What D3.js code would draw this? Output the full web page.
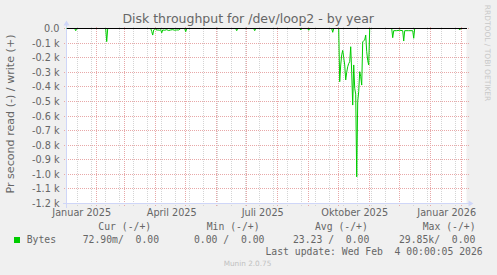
<!DOCTYPE html>
<html>
<head>
<meta charset="utf-8">
<script src="https://cdn.jsdelivr.net/npm/d3@7"></script>
<style>
  html, body { margin: 0; padding: 0; background: #f0f0f0; }
  svg { display: block; }
  text { white-space: pre; }
</style>
</head>
<body>
<svg id="chart" width="497" height="275"></svg>
<script>
// ---------------- data ----------------
const chartTitle = "Disk throughput for /dev/loop2 - by year";
const yAxisTitle = "Pr second read (-) / write (+)";
const sideMark = "RRDTOOL / TOBI OETIKER";
const footerMark = "Munin 2.0.75";

// daily read throughput (plotted negative); days not listed are 0
const dates = [
  "2024-12-31","2025-01-10","2025-01-11","2025-01-12","2025-02-10","2025-02-11","2025-02-12",
  "2025-03-27","2025-03-28","2025-03-29","2025-03-30","2025-03-31","2025-04-01","2025-04-02",
  "2025-04-03","2025-04-05","2025-04-06","2025-04-07","2025-04-08","2025-04-10","2025-04-12",
  "2025-04-14","2025-04-16","2025-04-18","2025-04-20","2025-04-22","2025-04-24","2025-04-26",
  "2025-04-30","2025-05-01","2025-05-02","2025-06-20","2025-06-21","2025-06-22","2025-07-08",
  "2025-07-09","2025-07-10","2025-08-23","2025-08-24","2025-08-25","2025-08-31","2025-09-01",
  "2025-09-02","2025-09-24","2025-09-25","2025-09-26","2025-10-01",
  "2025-10-02","2025-10-03","2025-10-04","2025-10-05","2025-10-06","2025-10-07","2025-10-08",
  "2025-10-09","2025-10-10","2025-10-11","2025-10-12","2025-10-13","2025-10-14","2025-10-15",
  "2025-10-16","2025-10-17","2025-10-18","2025-10-19","2025-10-20","2025-10-21","2025-10-22",
  "2025-10-23","2025-10-24","2025-10-25","2025-10-26","2025-10-27","2025-10-28","2025-10-29",
  "2025-10-30","2025-10-31","2025-11-01",
  "2025-11-23","2025-11-24","2025-11-25","2025-11-28","2025-12-01","2025-12-04","2025-12-05",
  "2025-12-06","2025-12-10","2025-12-14","2025-12-15","2025-12-16",
  "2026-01-29","2026-01-30","2026-01-31","2026-02-04"
];
const readBytes = [
  0, 0, -15, 0, 0, -90, 0,
  0, -20, -45, -10, -5, 0, -12,
  -10, -12, -8, -30, -10, -12, -8,
  -14, -10, -8, -12, -10, -10, 0,
  0, -22, 0, 0, -15, 0, 0,
  -15, 0, 0, -10, 0, 0, -12,
  0, 0, -26, 0, 0,
  -365, -250, -180, -150, -200, -250, -353,
  -300, -262, -240, -228, -125, -300, -525,
  -250, -410, -450, -1017, -500, -433, -296,
  -330, -388, -90, -85, -79, -45, -159,
  -220, -250, 0,
  0, -63, -15, -15, -12, -15, -86,
  -15, -15, -15, -67, 0,
  0, -10, 0, 0
];

const yTickValues = [0, -100, -200, -300, -400, -500, -600, -700, -800, -900, -1000, -1100, -1200];
const yTickLabels = ["0.0", "-0.1 k", "-0.2 k", "-0.3 k", "-0.4 k", "-0.5 k", "-0.6 k",
                     "-0.7 k", "-0.8 k", "-0.9 k", "-1.0 k", "-1.1 k", "-1.2 k"];
const xTickDates = ["2025-01-01", "2025-04-01", "2025-07-01", "2025-10-01", "2026-01-01"];
const xTickLabels = ["Januar 2025", "April 2025", "Juli 2025", "Oktober 2025", "Januar 2026"];

const legendHeaders = ["Cur (-/+)", "Min (-/+)", "Avg (-/+)", "Max (-/+)"];
const legendName = "Bytes";
const legendValues = ["72.90m/  0.00", "0.00 /  0.00", "23.23 /  0.00", "29.85k/  0.00"];
const lastUpdate = "Last update: Wed Feb  4 00:00:05 2026";

// ---------------- layout ----------------
(function () {
const parse = d3.timeParse("%Y-%m-%d");
const svg = d3.select("#chart");
const pL = 66.5, pR = 466.5, pT = 28.5, pB = 203.5;
const t0 = d3.timeHour.offset(parse("2025-01-01"), 19);           // plot start
const t1 = d3.timeHour.offset(parse("2026-02-05"), 19);           // plot end
const x = d3.scaleTime().domain([t0, t1]).range([pL, pR]);
const y = d3.scaleLinear().domain([-1200, 0]).range([pB, pT]);
const px = v => Math.round(v - 0.5) + 0.5;

const FONT = "'DejaVu Sans', sans-serif";
const MONO = "'DejaVu Sans Mono', monospace";
const TXT = "#666666";
const AXIS = "#CFD6F8";

// background
svg.append("rect").attr("width", 497).attr("height", 275).attr("fill", "#f0f0f0");
svg.append("rect").attr("x", pL).attr("y", pT - 0.5)
  .attr("width", pR - pL).attr("height", pB - pT + 0.5).attr("fill", "#ffffff");

// minor vertical grid: every other Monday
const ref = parse("2025-01-13");
const mondays = d3.timeMonday.range(t0, t1)
  .filter(d => Math.round((d - ref) / (7 * 864e5)) % 2 === 0);
const grid = svg.append("g").attr("shape-rendering", "crispEdges");
grid.selectAll("line.minor").data(mondays).join("line")
  .attr("x1", d => px(x(d))).attr("x2", d => px(x(d)))
  .attr("y1", pT - 2).attr("y2", pB + 2)
  .attr("stroke", "#d4d4d4").attr("stroke-width", 1).attr("stroke-dasharray", "1,1");

// major vertical grid: month starts
const months = d3.timeMonth.range(t0, t1);
grid.selectAll("line.major").data(months).join("line")
  .attr("x1", d => px(x(d))).attr("x2", d => px(x(d)))
  .attr("y1", pT - 2).attr("y2", pB + 3)
  .attr("stroke", "#e8a8a8").attr("stroke-width", 1).attr("stroke-dasharray", "1,1");

// horizontal grid
grid.selectAll("line.h").data(yTickValues).join("line")
  .attr("x1", pL - 3).attr("x2", pR + 3)
  .attr("y1", d => px(y(d))).attr("y2", d => px(y(d)))
  .attr("stroke", "#e8a8a8").attr("stroke-width", 1).attr("stroke-dasharray", "1,1");

// axes (lavender) with arrows
const ax = svg.append("g").attr("shape-rendering", "crispEdges");
ax.append("line").attr("x1", pL - 4).attr("x2", pR + 4)
  .attr("y1", px(pB)).attr("y2", px(pB)).attr("stroke", AXIS);
ax.append("line").attr("x1", px(pL)).attr("x2", px(pL))
  .attr("y1", pB + 4).attr("y2", pT - 4).attr("stroke", AXIS);
svg.append("path").attr("d", `M${pR + 2},${px(pB) - 3} L${pR + 7},${px(pB)} L${pR + 2},${px(pB) + 3} Z`)
  .attr("fill", AXIS);
svg.append("path").attr("d", `M${px(pL) - 3},${pT - 3} L${px(pL)},${pT - 8} L${px(pL) + 3},${pT - 3} Z`)
  .attr("fill", AXIS);

// y tick labels
svg.append("g").selectAll("text").data(yTickValues).join("text")
  .attr("x", 59.5).attr("y", d => y(d) + 3.5)
  .attr("text-anchor", "end").attr("font-family", FONT).attr("font-size", "9.7px")
  .attr("fill", TXT).text((d, i) => yTickLabels[i]);

// x tick labels (centered ~16 days after the quarter start)
svg.append("g").selectAll("text").data(xTickDates).join("text")
  .attr("x", d => x(d3.timeDay.offset(parse(d), 16)))
  .attr("y", 216.3)
  .attr("text-anchor", "middle").attr("font-family", FONT).attr("font-size", "9.7px")
  .attr("fill", TXT).text((d, i) => xTickLabels[i]);

// data line
const series = dates.map((d, i) => ({ date: parse(d), value: readBytes[i] }));
const line = d3.line().x(d => x(d.date)).y(d => y(d.value));
svg.append("defs").append("clipPath").attr("id", "clip")
  .append("rect").attr("x", pL).attr("y", pT - 1).attr("width", pR - pL).attr("height", pB - pT + 2);
svg.append("path").datum(series).attr("d", line)
  .attr("clip-path", "url(#clip)")
  .attr("fill", "none").attr("stroke", "#00cc00").attr("stroke-width", 1);

// zero rule
svg.append("line").attr("x1", pL).attr("x2", pR)
  .attr("y1", px(y(0))).attr("y2", px(y(0)))
  .attr("stroke", "#000000").attr("stroke-width", 1).attr("shape-rendering", "crispEdges");

// title
svg.append("text").attr("x", 248.2).attr("y", 23.3).attr("text-anchor", "middle")
  .attr("font-family", FONT).attr("font-size", "12.5px").attr("fill", TXT).text(chartTitle);

// y axis title
svg.append("text").attr("transform", "translate(14.3,114) rotate(-90)")
  .attr("text-anchor", "middle").attr("font-family", FONT).attr("font-size", "11.1px")
  .attr("fill", TXT).text(yAxisTitle);

// side watermark
svg.append("text").attr("transform", "translate(485.2,53) rotate(90)")
  .attr("text-anchor", "middle").attr("font-family", FONT).attr("font-size", "7.5px")
  .attr("fill", "#c8c8c8").text(sideMark);

// legend
const hx = [98.3, 206.7, 315, 422.7];
const vx = [82.7, 194, 293, 399];
const lg = svg.append("g").attr("font-family", MONO).attr("font-size", "9.75px").attr("fill", TXT);
lg.selectAll("text.h").data(legendHeaders).join("text")
  .attr("x", (d, i) => hx[i]).attr("y", 230.3).text(d => d);
svg.append("rect").attr("x", 14).attr("y", 237).attr("width", 6).attr("height", 6).attr("fill", "#00cc00");
lg.append("text").attr("x", 26.7).attr("y", 243).text(legendName);
lg.selectAll("text.v").data(legendValues).join("text")
  .attr("x", (d, i) => vx[i]).attr("y", 243).text(d => d);
lg.append("text").attr("x", 482.7).attr("y", 255.2).attr("text-anchor", "end").text(lastUpdate);

// footer watermark
svg.append("text").attr("x", 247.5).attr("y", 266).attr("text-anchor", "middle")
  .attr("font-family", FONT).attr("font-size", "7.3px").attr("fill", "#c0c0c0").text(footerMark);
})();
</script>
</body>
</html>
